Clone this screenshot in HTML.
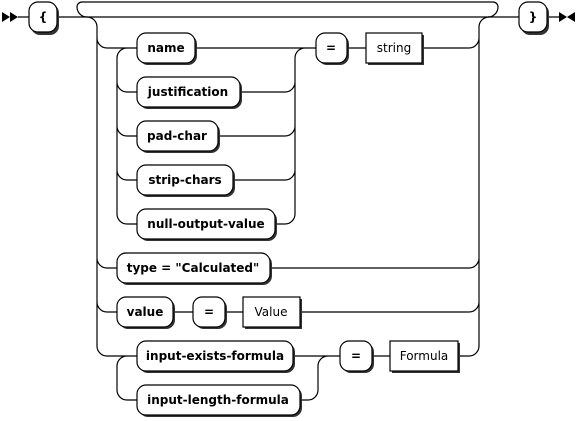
<!DOCTYPE html>
<html><head><style>body{margin:0;background:#fff}svg{display:block}</style></head><body>
<svg width="577" height="421" viewBox="0 0 577 421" xmlns="http://www.w3.org/2000/svg">
<defs><style>
.l{fill:none;stroke:#000;stroke-width:1.2}
.b{fill:#fff;stroke:#000;stroke-width:1.2}
.s{fill:#333}
.t{font-family:"DejaVu Sans","Liberation Sans",sans-serif;font-size:12px;font-weight:bold;fill:#000}
.n{font-family:"DejaVu Sans","Liberation Sans",sans-serif;font-size:12px;fill:#000}
</style></defs>
<polygon points="2,12 10,17 2,22" fill="#000"/><polygon points="10,12 18,17 10,22" fill="#000"/>
<polygon points="575,12 567,17 575,22" fill="#000"/><polygon points="559,12 567,17 559,22" fill="#000"/>
<path class="l" d="M18 17H29M57 17H519M547 17H559"/>
<path class="l" d="M87 17A10 10 0 0 1 77 7A5 5 0 0 1 82 2H493A5 5 0 0 1 498 7A10 10 0 0 1 488 17"/>
<!-- main choice -->
<path class="l" d="M87 17A10 10 0 0 1 97 27V346A10 10 0 0 0 107 356M97 258A10 10 0 0 0 107 268M97 302A10 10 0 0 0 107 312M97 38A10 10 0 0 0 107 48"/>
<path class="l" d="M489 17A10 10 0 0 0 479 27V346A10 10 0 0 1 469 356M479 258A10 10 0 0 1 469 268M479 302A10 10 0 0 1 469 312M479 38A10 10 0 0 1 469 48"/>
<!-- inner choice 1 -->
<path class="l" d="M107 48H137M127 48A10 10 0 0 0 117 58V214A10 10 0 0 0 127 224H137M117 82A10 10 0 0 0 127 92H137M117 126A10 10 0 0 0 127 136H137M117 170A10 10 0 0 0 127 180H137"/>
<path class="l" d="M195 48H316M240 92H285A10 10 0 0 0 295 82M218 136H285A10 10 0 0 0 295 126M233 180H285A10 10 0 0 0 295 170M275 224H285A10 10 0 0 0 295 214V58A10 10 0 0 1 305 48M347 48H366M422 48H469"/>
<!-- type/value -->
<path class="l" d="M107 268H117M270 268H469M107 312H117M173 312H193M225 312H243M300 312H469"/>
<!-- bottom -->
<path class="l" d="M107 356H137M127 356A10 10 0 0 0 117 366V390A10 10 0 0 0 127 400H137M293 356H340M300 400H308A10 10 0 0 0 318 390V366A10 10 0 0 1 328 356M372 356H390M458 356H469"/>
<g>
<rect class="s" x="31" y="4" width="28" height="31" rx="9"/><rect class="b" x="29" y="2" width="28" height="30" rx="9"/><text class="t" x="43" y="21" text-anchor="middle">{</text>
<rect class="s" x="521" y="4" width="28" height="31" rx="9"/><rect class="b" x="519" y="2" width="28" height="30" rx="9"/><text class="t" x="533" y="21" text-anchor="middle">}</text>
</g>
<g>
<rect class="s" x="139" y="35" width="58" height="30" rx="9"/><rect class="b" x="137" y="33" width="58" height="30" rx="9"/><text class="t" x="166" y="52" text-anchor="middle">name</text>
<rect class="s" x="139" y="79" width="103" height="30" rx="9"/><rect class="b" x="137" y="77" width="103" height="30" rx="9"/><text class="t" x="188" y="96" text-anchor="middle">justification</text>
<rect class="s" x="139" y="123" width="81" height="30" rx="9"/><rect class="b" x="137" y="121" width="81" height="30" rx="9"/><text class="t" x="177" y="140" text-anchor="middle">pad-char</text>
<rect class="s" x="139" y="167" width="96" height="30" rx="9"/><rect class="b" x="137" y="165" width="96" height="30" rx="9"/><text class="t" x="185" y="184" text-anchor="middle">strip-chars</text>
<rect class="s" x="139" y="211" width="138" height="30" rx="9"/><rect class="b" x="137" y="209" width="138" height="30" rx="9"/><text class="t" x="206" y="228" text-anchor="middle">null-output-value</text>
<rect class="s" x="318" y="35" width="31" height="30" rx="9"/><rect class="b" x="316" y="33" width="31" height="30" rx="9"/><text class="t" x="331" y="52" text-anchor="middle">=</text>
<rect class="s" x="368" y="35" width="56" height="30"/><rect class="b" x="366" y="33" width="56" height="30"/><text class="n" x="394" y="52" text-anchor="middle">string</text>
<rect class="s" x="119" y="255" width="153" height="30" rx="9"/><rect class="b" x="117" y="253" width="153" height="30" rx="9"/><text class="t" x="193" y="272" text-anchor="middle">type = "Calculated"</text>
<rect class="s" x="119" y="299" width="56" height="30" rx="9"/><rect class="b" x="117" y="297" width="56" height="30" rx="9"/><text class="t" x="145" y="316" text-anchor="middle">value</text>
<rect class="s" x="195" y="299" width="32" height="30" rx="9"/><rect class="b" x="193" y="297" width="32" height="30" rx="9"/><text class="t" x="209" y="316" text-anchor="middle">=</text>
<rect class="s" x="245" y="299" width="57" height="30"/><rect class="b" x="243" y="297" width="57" height="30"/><text class="n" x="271" y="316" text-anchor="middle">Value</text>
<rect class="s" x="139" y="343" width="156" height="30" rx="9"/><rect class="b" x="137" y="341" width="156" height="30" rx="9"/><text class="t" x="215" y="360" text-anchor="middle">input-exists-formula</text>
<rect class="s" x="139" y="387" width="163" height="30" rx="9"/><rect class="b" x="137" y="385" width="163" height="30" rx="9"/><text class="t" x="218" y="404" text-anchor="middle">input-length-formula</text>
<rect class="s" x="342" y="343" width="32" height="30" rx="9"/><rect class="b" x="340" y="341" width="32" height="30" rx="9"/><text class="t" x="356" y="360" text-anchor="middle">=</text>
<rect class="s" x="392" y="343" width="68" height="30"/><rect class="b" x="390" y="341" width="68" height="30"/><text class="n" x="424" y="360" text-anchor="middle">Formula</text>
</g>
</svg>
</body></html>
